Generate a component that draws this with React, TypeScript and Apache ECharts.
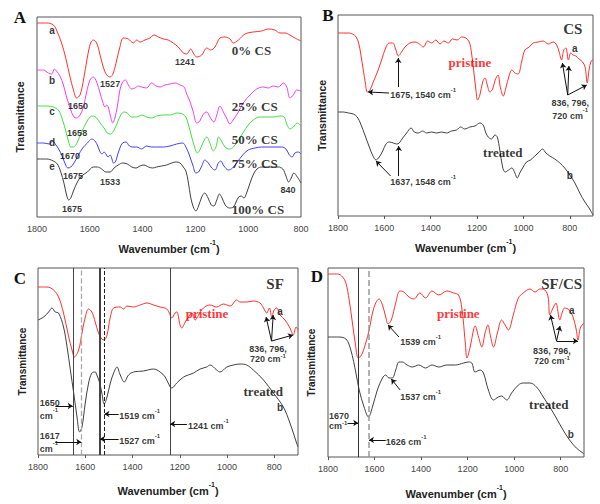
import React, { useEffect, useRef } from 'react';
import * as echarts from 'echarts';

const SANS = '"Liberation Sans", Arial, Helvetica, sans-serif';
const SERIF = '"Liberation Serif", "Times New Roman", serif';

// ---------- tick labels ----------
const ticksWide = [1800, 1600, 1400, 1200, 1000, 800];

// ---------- Panel A : SF/CS blends ----------
const specA0 = [[1800,194],[1763,194],[1738,192],[1723,185],[1707,174],[1691,159],[1675,140],[1662,127],[1650,119],[1637,122],[1624,137],[1609,160],[1597,174],[1587,177],[1574,174],[1561,162],[1549,150],[1536,142],[1523,140],[1511,144],[1498,157],[1486,170],[1473,179],[1454,178],[1435,174],[1422,177],[1410,175],[1391,177],[1372,179],[1357,182],[1340,180],[1321,178],[1303,177],[1284,174],[1265,170],[1246,164],[1233,163],[1218,168],[1208,164],[1195,160],[1176,162],[1157,169],[1142,167],[1126,170],[1107,179],[1088,180],[1069,178],[1057,174],[1037,177],[1012,183],[981,185],[949,186],[924,188],[899,187],[880,184],[861,184],[842,182],[823,179],[800,176]];
const specA25 = [[1800,147],[1776,147],[1757,144],[1744,143],[1734,148],[1726,146],[1713,141],[1700,132],[1688,120],[1672,107],[1660,100],[1650,99],[1637,102],[1624,110],[1612,125],[1599,137],[1587,140],[1574,135],[1561,124],[1551,115],[1542,110],[1536,112],[1529,109],[1521,100],[1513,94],[1505,99],[1496,110],[1486,127],[1476,135],[1465,137],[1454,132],[1441,128],[1429,129],[1416,131],[1404,130],[1385,129],[1366,134],[1349,131],[1334,130],[1315,132],[1296,133],[1277,134],[1258,132],[1243,130],[1233,123],[1220,115],[1208,105],[1195,94],[1183,96],[1170,103],[1157,105],[1145,100],[1130,95],[1119,102],[1107,111],[1094,105],[1082,99],[1069,93],[1057,97],[1037,105],[1019,114],[993,122],[968,128],[943,130],[924,129],[905,131],[886,130],[867,134],[854,130],[842,119],[829,122],[816,127],[800,126]];
const specA50 = [[1800,111],[1763,111],[1738,110],[1719,107],[1703,97],[1690,85],[1680,75],[1672,70],[1662,70],[1647,75],[1631,85],[1614,94],[1599,100],[1587,101],[1574,99],[1561,94],[1546,89],[1534,84],[1521,83],[1508,87],[1496,94],[1483,102],[1470,105],[1458,104],[1441,100],[1422,100],[1404,102],[1385,100],[1366,99],[1347,101],[1321,102],[1296,102],[1271,104],[1248,103],[1236,100],[1226,92],[1214,80],[1202,69],[1193,64],[1183,67],[1170,75],[1157,80],[1145,74],[1132,66],[1122,70],[1112,80],[1101,76],[1088,70],[1071,68],[1056,70],[1037,77],[1018,85],[1000,92],[981,97],[955,100],[930,100],[905,100],[880,101],[864,100],[854,93],[842,88],[829,90],[814,94],[800,91]];
const specA75 = [[1800,74],[1776,74],[1753,73],[1741,76],[1731,73],[1718,68],[1705,61],[1693,53],[1683,49],[1672,50],[1660,54],[1643,62],[1627,69],[1609,74],[1593,78],[1580,76],[1570,71],[1561,65],[1554,63],[1546,65],[1539,63],[1531,60],[1523,62],[1516,58],[1511,54],[1503,55],[1496,61],[1486,69],[1476,74],[1463,75],[1450,71],[1438,70],[1422,70],[1404,68],[1385,71],[1366,70],[1347,70],[1321,70],[1296,71],[1271,73],[1248,74],[1236,70],[1223,62],[1210,52],[1198,44],[1188,45],[1176,51],[1164,57],[1151,54],[1138,49],[1126,47],[1113,54],[1104,56],[1092,51],[1075,47],[1059,49],[1041,55],[1021,62],[1000,67],[974,69],[949,70],[924,70],[899,70],[873,70],[857,68],[844,62],[834,60],[823,64],[810,65],[800,63]];
const specA100 = [[1800,58],[1763,58],[1738,56],[1723,53],[1710,45],[1698,34],[1688,22],[1680,17],[1672,19],[1662,26],[1647,35],[1631,41],[1609,45],[1587,50],[1571,50],[1555,48],[1539,45],[1523,45],[1508,49],[1492,52],[1476,54],[1458,53],[1441,50],[1425,49],[1410,51],[1395,52],[1378,50],[1362,49],[1347,50],[1328,51],[1309,52],[1290,54],[1273,55],[1258,54],[1246,50],[1236,46],[1227,35],[1218,20],[1208,10],[1198,6],[1188,11],[1176,20],[1165,24],[1152,19],[1140,12],[1130,11],[1119,17],[1109,23],[1099,19],[1087,12],[1071,9],[1056,10],[1046,15],[1036,20],[1026,21],[1016,19],[1006,24],[993,34],[978,44],[962,49],[943,50],[924,50],[905,50],[886,50],[869,48],[857,41],[847,35],[837,39],[827,44],[814,40],[800,34]];

// ---------- Panel B : CS ----------
const specBPristine = [[1800,183],[1777,183],[1755,183],[1737,182],[1722,179],[1711,173],[1701,161],[1691,146],[1682,133],[1674,124],[1662,126],[1648,134],[1630,144],[1612,156],[1593,169],[1579,173],[1564,173],[1550,166],[1540,160],[1526,164],[1511,169],[1490,173],[1468,174],[1449,172],[1432,169],[1413,175],[1396,173],[1378,176],[1360,172],[1343,175],[1324,173],[1306,177],[1286,176],[1267,179],[1248,178],[1234,174],[1224,163],[1214,144],[1205,126],[1198,116],[1188,121],[1176,134],[1166,138],[1156,131],[1145,124],[1133,127],[1122,136],[1110,141],[1099,128],[1087,120],[1076,128],[1061,141],[1050,146],[1037,143],[1023,142],[1008,154],[994,166],[975,169],[958,173],[936,174],[915,175],[893,172],[872,174],[857,171],[846,164],[836,156],[826,166],[817,168],[806,156],[796,163],[786,161],[774,160],[760,157],[745,154],[734,149],[725,133],[717,146],[708,155],[700,156]];
const specBTreated = [[1800,104],[1777,104],[1755,103],[1734,102],[1717,99],[1702,92],[1684,81],[1665,69],[1651,61],[1636,56],[1622,59],[1607,65],[1593,72],[1579,74],[1561,73],[1547,72],[1536,73],[1521,78],[1504,83],[1485,88],[1471,84],[1454,83],[1435,85],[1418,83],[1396,84],[1375,83],[1353,84],[1332,83],[1310,85],[1289,86],[1271,89],[1253,87],[1231,89],[1209,90],[1188,93],[1174,91],[1162,83],[1152,79],[1138,77],[1123,81],[1113,79],[1102,66],[1090,49],[1079,44],[1064,46],[1050,48],[1037,43],[1027,38],[1016,43],[1001,49],[987,54],[970,56],[951,60],[932,64],[918,67],[903,63],[886,60],[865,57],[843,53],[822,48],[800,41],[778,33],[757,23],[735,14],[717,8],[700,1]];

// ---------- Panel C : SF ----------
const specCPristine = [[1800,168],[1762,168],[1734,165],[1713,158],[1692,142],[1670,118],[1656,105],[1646,98],[1628,105],[1614,122],[1600,138],[1586,146],[1572,143],[1558,133],[1544,122],[1530,116],[1520,115],[1508,120],[1494,138],[1480,147],[1452,148],[1438,146],[1424,149],[1396,148],[1368,150],[1339,152],[1311,150],[1283,148],[1255,146],[1241,140],[1234,137],[1220,142],[1213,143],[1199,130],[1192,127],[1177,133],[1163,138],[1149,142],[1135,135],[1121,140],[1100,147],[1072,150],[1044,148],[1015,151],[987,149],[959,155],[945,153],[917,153],[889,154],[861,152],[846,147],[832,142],[821,147],[811,138],[801,145],[790,147],[776,140],[755,135],[734,127],[720,120],[708,128],[700,125]];
const specCTreated = [[1800,135],[1776,138],[1755,143],[1741,147],[1727,143],[1713,142],[1692,128],[1677,108],[1663,85],[1649,62],[1635,38],[1624,23],[1614,28],[1600,52],[1586,72],[1572,82],[1558,83],[1551,80],[1539,72],[1530,62],[1520,51],[1508,58],[1494,72],[1480,82],[1466,88],[1452,80],[1435,73],[1417,80],[1396,83],[1354,84],[1311,86],[1283,83],[1262,78],[1241,68],[1234,67],[1213,72],[1184,78],[1142,82],[1114,86],[1086,88],[1072,90],[1044,85],[1030,83],[1001,88],[973,90],[945,91],[917,90],[889,85],[846,75],[804,62],[762,48],[734,32],[706,12],[700,8]];

// ---------- Panel D : SF/CS ----------
const specDPristine = [[1800,183],[1759,183],[1737,180],[1723,174],[1709,157],[1695,134],[1683,114],[1670,99],[1656,102],[1638,114],[1623,127],[1609,144],[1595,154],[1581,158],[1566,152],[1552,140],[1542,133],[1528,137],[1509,154],[1491,166],[1474,165],[1452,160],[1431,158],[1405,164],[1381,159],[1353,166],[1324,162],[1289,166],[1260,164],[1239,162],[1225,149],[1210,114],[1203,99],[1189,110],[1175,127],[1168,131],[1153,120],[1139,110],[1125,124],[1113,132],[1101,120],[1089,110],[1072,124],[1054,137],[1039,132],[1025,127],[1004,142],[982,159],[961,164],[932,168],[911,165],[890,168],[868,167],[854,160],[847,142],[833,149],[821,154],[804,137],[793,145],[783,149],[764,147],[747,140],[733,127],[726,117],[716,129],[705,133],[700,134]];
const specDTreated = [[1800,120],[1759,120],[1723,118],[1702,107],[1680,84],[1666,67],[1645,50],[1626,40],[1609,50],[1588,67],[1566,79],[1552,82],[1538,79],[1524,79],[1509,87],[1495,95],[1481,95],[1460,92],[1438,90],[1410,92],[1381,89],[1353,92],[1324,90],[1289,92],[1253,92],[1217,94],[1196,95],[1182,94],[1168,85],[1146,87],[1132,84],[1111,67],[1089,57],[1068,60],[1054,61],[1032,57],[1011,64],[982,72],[961,74],[932,74],[904,70],[875,60],[847,50],[819,39],[790,27],[762,17],[733,9],[705,4],[700,3]];

// ---------- annotations (text at wavenumber / transmittance) ----------
const annA = [
  { x: 1743, y: 189, t: 'a', k: 'tag', a: 'c' },
  { x: 1743, y: 139, t: 'b', k: 'tag', a: 'c' },
  { x: 1743, y: 108, t: 'c', k: 'tag', a: 'c' },
  { x: 1743, y: 77, t: 'd', k: 'tag', a: 'c' },
  { x: 1743, y: 53, t: 'e', k: 'tag', a: 'c' },
  { x: 1062, y: 169, t: '0% CS', k: 'serif', a: 'l' },
  { x: 1062, y: 113, t: '25% CS', k: 'serif', a: 'l' },
  { x: 1062, y: 80, t: '50% CS', k: 'serif', a: 'l' },
  { x: 1062, y: 56, t: '75% CS', k: 'serif', a: 'l' },
  { x: 1062, y: 10, t: '100% CS', k: 'serif', a: 'l' },
  { x: 1645, y: 113, t: '1650', k: 'num', a: 'c' },
  { x: 1523, y: 135, t: '1527', k: 'num', a: 'c' },
  { x: 1239, y: 157, t: '1241', k: 'num', a: 'c' },
  { x: 1648, y: 86, t: '1658', k: 'num', a: 'c' },
  { x: 1675, y: 63, t: '1670', k: 'num', a: 'c' },
  { x: 1664, y: 43, t: '1675', k: 'num', a: 'c' },
  { x: 1523, y: 37, t: '1533', k: 'num', a: 'c' },
  { x: 1667, y: 10, t: '1675', k: 'num', a: 'c' },
  { x: 849, y: 29, t: '840', k: 'num', a: 'c' },
];
const annB = [
  { x: 787, y: 189, t: 'CS', k: 'head', a: 'c' },
  { x: 1231, y: 156, t: 'pristine', k: 'red', a: 'c' },
  { x: 779, y: 170, t: 'a', k: 'tag', a: 'c' },
  { x: 1089, y: 66, t: 'treated', k: 'serif', a: 'c' },
  { x: 800, y: 43, t: 'b', k: 'tag', a: 'c' },
  { x: 1575, y: 123, t: '1675, 1540 cm^-1', k: 'num', a: 'l' },
  { x: 1575, y: 36, t: '1637, 1548 cm^-1', k: 'num', a: 'l' },
  { x: 798, y: 109, t: '836, 796,\n720 cm^-1', k: 'num', a: 'c' },
];
const arrowsB = [
  [[1580, 123], [1670, 124]],
  [[1540, 129], [1540, 158]],
  [[1573, 40], [1636, 55]],
  [[1538, 40], [1538, 70]],
  [[809, 121], [832, 153]],
  [[809, 121], [804, 150]],
  [[809, 121], [727, 131]],
];
const annC = [
  { x: 797, y: 173, t: 'SF', k: 'head', a: 'c' },
  { x: 1085, y: 144, t: 'pristine', k: 'red', a: 'c' },
  { x: 776, y: 146, t: 'a', k: 'tag', a: 'c' },
  { x: 827, y: 102, t: '836, 796,\n720 cm^-1', k: 'numT', a: 'c' },
  { x: 847, y: 66, t: 'treated', k: 'serif', a: 'c' },
  { x: 776, y: 50, t: 'b', k: 'tag', a: 'c' },
  { x: 1793, y: 48, t: '1650\ncm^-1', k: 'num', a: 'l' },
  { x: 1793, y: 15, t: '1617\ncm^-1', k: 'num', a: 'l' },
  { x: 1456, y: 41, t: '1519 cm^-1', k: 'num', a: 'l' },
  { x: 1456, y: 16, t: '1527 cm^-1', k: 'num', a: 'l' },
  { x: 1165, y: 31, t: '1241 cm^-1', k: 'num', a: 'l' },
];
const arrowsC = [
  [[1727, 49], [1653, 49]],
  [[1727, 13], [1617, 13]],
  [[1459, 41], [1519, 41]],
  [[1459, 16], [1538, 16]],
  [[1170, 31], [1241, 31]],
  [[812, 114], [835, 138]],
  [[812, 114], [805, 140]],
  [[812, 114], [721, 120]],
];
const linesC = [1650, 1617, 1538, 1519, 1241];
const annD = [
  { x: 796, y: 175, t: 'SF/CS', k: 'head', a: 'c' },
  { x: 1240, y: 146, t: 'pristine', k: 'red', a: 'c' },
  { x: 753, y: 149, t: 'a', k: 'tag', a: 'c' },
  { x: 1490, y: 117, t: '1539 cm^-1', k: 'num', a: 'l' },
  { x: 838, y: 102, t: '836, 796,\n720 cm^-1', k: 'numT', a: 'c' },
  { x: 1490, y: 62, t: '1537 cm^-1', k: 'num', a: 'l' },
  { x: 851, y: 55, t: 'treated', k: 'serif', a: 'c' },
  { x: 757, y: 25, t: 'b', k: 'tag', a: 'c' },
  { x: 1796, y: 37, t: '1670\ncm^-1', k: 'numT', a: 'l' },
  { x: 1552, y: 17, t: '1626 cm^-1', k: 'num', a: 'l' },
];
const arrowsD = [
  [[1495, 120], [1542, 132]],
  [[1490, 67], [1528, 78]],
  [[1716, 34], [1670, 34]],
  [[1552, 17], [1624, 17]],
  [[818, 116], [844, 142]],
  [[818, 116], [803, 131]],
  [[818, 116], [726, 116]],
];
const linesD = [1670, 1624];

// ---------- helpers ----------
function fmtLine(t: string) {
  const i = t.indexOf('^');
  if (i < 0) return `{n|${t}}`;
  return `{n|${t.slice(0, i)}}{s|${t.slice(i + 1)}}`;
}
function fmt(t: string) {
  return t.split('\n').map(fmtLine).join('\n');
}
function rich(size: number, family: string, color: string, lh?: number) {
  const ss = Math.round(size * 0.7);
  return {
    n: { fontSize: size, fontFamily: family, fontWeight: 'bold', color, lineHeight: lh || size + 4, verticalAlign: 'bottom', textBorderWidth: 0 },
    s: { fontSize: ss, fontFamily: family, fontWeight: 'bold', color, lineHeight: ss + 1, verticalAlign: 'top', textBorderWidth: 0 },
  };
}
const RICH: any = {
  num: rich(9, SANS, '#000'),
  numT: rich(9, SANS, '#000', 10),
  tag: rich(10, SANS, '#000'),
  serif: rich(13, SERIF, '#000'),
  red: rich(13, SERIF, '#ff0000'),
  head: rich(15, SERIF, '#000'),
};

const grids = [
  { left: 37, top: 17, width: 264, height: 200 },
  { left: 338, top: 15, width: 255, height: 201 },
  { left: 38, top: 268, width: 260, height: 187 },
  { left: 328, top: 268, width: 256, height: 189 },
];
const xMins = [800, 700, 700, 700];
const yMaxs = [200, 201, 187, 189];
const xNameGaps = [22, 22, 26, 27];
const yNameGaps = [12, 11, 11, 12];
const yNameSizes = [10.5, 10.5, 10, 10];

function curve(data: number[][], color: string, gi: number, extra: any = {}) {
  return {
    type: 'line', xAxisIndex: gi, yAxisIndex: gi, data, symbol: 'none', showSymbol: false,
    smooth: 0.35, silent: true, z: 3, lineStyle: { color, width: 1 }, ...extra,
  };
}
function annSeries(gi: number, anns: any[], arrows: any[]) {
  const s: any = {
    type: 'scatter', xAxisIndex: gi, yAxisIndex: gi, symbol: 'circle', symbolSize: 1, silent: true, z: 6,
    itemStyle: { color: 'rgba(0,0,0,0)' },
    labelLayout: { hideOverlap: false },
    data: anns.map((a) => ({
      value: [a.x, a.y], t: a.t,
      label: { align: a.a === 'l' ? 'left' : 'center', rich: RICH[a.k] },
    })),
    label: {
      show: true, position: 'inside', verticalAlign: 'middle', color: '#000', textBorderWidth: 0,
      formatter: (p: any) => fmt(p.data.t),
    },
  };
  if (arrows.length) {
    s.markLine = {
      silent: true, symbol: ['none', 'arrow'], symbolSize: 5, label: { show: false },
      lineStyle: { color: '#111', width: 1, type: 'solid' },
      data: arrows.map(([a, b]) => [{ coord: a }, { coord: b }]),
    };
  }
  return s;
}
function vLines(vals: number[], styles: any[]) {
  return {
    silent: true, symbol: 'none', label: { show: false },
    data: vals.map((v, i) => ({ xAxis: v, lineStyle: styles[i] })),
  };
}

const xName = '{t|Wavenumber (cm}{s|-1}{t|)}';
const xNameRich = {
  t: { fontFamily: SANS, fontWeight: 'bold', fontSize: 11, color: '#222', lineHeight: 15, verticalAlign: 'bottom' },
  s: { fontFamily: SANS, fontWeight: 'bold', fontSize: 7, color: '#222', lineHeight: 8, verticalAlign: 'top' },
};

function buildOption() {
  const xAxis = grids.map((_, i) => ({
    gridIndex: i, type: 'value', inverse: true, min: xMins[i], max: 1800,
    axisLine: { show: false },
    axisTick: { show: i > 0, length: 3, customValues: ticksWide, lineStyle: { color: '#555' } },
    axisLabel: { customValues: ticksWide, fontSize: 9, fontFamily: SANS, color: '#444', margin: 7, formatter: (v: number) => String(v) },
    splitLine: { show: false },
    name: xName, nameLocation: 'middle', nameGap: xNameGaps[i],
    nameTextStyle: { rich: xNameRich },
  }));
  const yAxis = grids.map((_, i) => ({
    gridIndex: i, type: 'value', min: 0, max: yMaxs[i],
    axisLine: { show: false }, axisTick: { show: false }, axisLabel: { show: false }, splitLine: { show: false },
    name: 'Transmittance', nameLocation: 'middle', nameRotate: 90, nameGap: yNameGaps[i],
    nameTextStyle: { fontFamily: SANS, fontWeight: 'bold', fontSize: yNameSizes[i], color: '#222' },
  }));
  const letter = (t: string, x: number, y: number) => ({
    type: 'text', x, y, silent: true,
    style: { text: t, font: `bold 17px ${SERIF}`, fill: '#111', align: 'center', verticalAlign: 'middle' },
  });
  return {
    animation: false,
    backgroundColor: '#fff',
    grid: grids.map((g) => ({ ...g, show: true, borderColor: '#555', borderWidth: 1, backgroundColor: 'transparent' })),
    xAxis, yAxis,
    graphic: [letter('A', 20, 17), letter('B', 328, 15), letter('C', 20, 278), letter('D', 317, 276)],
    series: [
      curve(specA0, '#ff3030', 0),
      curve(specA25, '#f040f0', 0),
      curve(specA50, '#40e040', 0),
      curve(specA75, '#4040ff', 0),
      curve(specA100, '#404040', 0),
      annSeries(0, annA, []),
      curve(specBPristine, '#ff3030', 1),
      curve(specBTreated, '#404040', 1),
      annSeries(1, annB, arrowsB),
      curve(specCPristine, '#ff3030', 2),
      curve(specCTreated, '#404040', 2, {
        markLine: vLines(linesC, [
          { color: '#444', width: 1, type: 'solid' },
          { color: '#aaa', width: 1.3, type: 'dashed' },
          { color: '#444', width: 2, type: 'solid' },
          { color: '#222', width: 1, type: 'dashed' },
          { color: '#444', width: 1, type: 'solid' },
        ]),
      }),
      annSeries(2, annC, arrowsC),
      curve(specDPristine, '#ff3030', 3),
      curve(specDTreated, '#404040', 3, {
        markLine: vLines(linesD, [
          { color: '#333', width: 1, type: 'solid' },
          { color: '#999', width: 1.5, type: 'dashed' },
        ]),
      }),
      annSeries(3, annD, arrowsD),
    ],
  };
}

export default function App() {
  const ref = useRef<HTMLDivElement>(null);
  useEffect(() => {
    if (!ref.current) return;
    const chart = echarts.init(ref.current, null, { renderer: 'svg' });
    chart.setOption(buildOption() as any);
    return () => chart.dispose();
  }, []);
  return (
    <div
      ref={ref}
      style={{ position: 'absolute', left: 0, top: 0, width: 600, height: 504, background: '#fff' }}
    />
  );
}
